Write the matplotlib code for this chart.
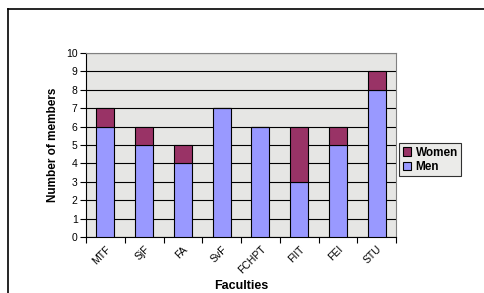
import matplotlib
matplotlib.use("Agg")
import matplotlib.pyplot as plt
from matplotlib.patches import Patch
from matplotlib.lines import Line2D
import numpy as np

faculties = ["MTF", "SjF", "FA", "SvF", "FCHPT", "FIIT", "FEI", "STU"]
men = [6, 5, 4, 7, 6, 3, 5, 8]
women = [1, 1, 1, 0, 0, 3, 1, 1]
yticks = list(range(0, 11))

plt.rcParams['font.family'] = ['Liberation Sans', 'DejaVu Sans']

W, H = 484, 293
fig = plt.figure(figsize=(W / 100, H / 100), dpi=100)
fig.patch.set_facecolor("white")

# outer border (left and top visible)
fig.add_artist(Line2D([8 / W, 8 / W], [0, 1 - 9 / H], color="black", lw=1.2, transform=fig.transFigure))
fig.add_artist(Line2D([8 / W, 1], [1 - 9 / H, 1 - 9 / H], color="black", lw=1.2, transform=fig.transFigure))

x0, x1 = 86, 396
y0, y1 = 53, 237
ax = fig.add_axes([x0 / W, 1 - y1 / H, (x1 - x0) / W, (y1 - y0) / H])
ax.set_facecolor("#e6e6e4")

x = np.arange(len(faculties))
bw = 0.46
ax.bar(x, men, bw, color="#9999ff", edgecolor="black", linewidth=0.8, label="Men", zorder=3)
ax.bar(x, women, bw, bottom=men, color="#993366", edgecolor="black", linewidth=0.8, label="Women", zorder=3)

ax.set_xlim(-0.5, len(faculties) - 0.5)
ax.set_ylim(0, 10)
ax.set_yticks(yticks)
ax.set_yticklabels([str(v) for v in yticks], fontsize=7.5)
ax.yaxis.grid(True, color="black", linewidth=0.8, zorder=1)
ax.set_axisbelow(True)

ax.set_xticks(np.arange(len(faculties) + 1) - 0.5)
ax.set_xticklabels([])
ax.set_xticks(x, minor=True)
ax.set_xticklabels(faculties, minor=True, rotation=45, ha="right", va="top", fontsize=7.5,
                   rotation_mode="anchor")
ax.tick_params(axis="x", which="minor", length=0, pad=5)
ax.tick_params(axis="x", which="major", length=4, direction="out", width=0.8)
ax.tick_params(axis="y", length=4, direction="out", width=0.8, pad=2)

for s in ["top", "right"]:
    ax.spines[s].set_color("#808080")
    ax.spines[s].set_linewidth(0.8)
for s in ["left", "bottom"]:
    ax.spines[s].set_color("black")
    ax.spines[s].set_linewidth(0.8)

ax.set_ylabel("Number of members", fontsize=8.5, fontweight="bold", labelpad=5)
fig.text((x0 + x1) / 2 / W, 1 - 286 / H, "Faculties", ha="center", va="center",
         fontsize=9, fontweight="bold")

handles = [Patch(facecolor="#993366", edgecolor="black", linewidth=0.8),
           Patch(facecolor="#9999ff", edgecolor="black", linewidth=0.8)]
leg = fig.legend(handles, ["Women", "Men"], loc="upper left",
                 bbox_to_anchor=(399 / W, 1 - 143 / H), frameon=True, fancybox=False,
                 prop={"weight": "bold", "size": 8.5},
                 handlelength=0.7, handleheight=0.7, handletextpad=0.4,
                 borderpad=0.3, labelspacing=0.2, borderaxespad=0)
leg.get_frame().set_edgecolor("black")
leg.get_frame().set_linewidth(0.8)
leg.get_frame().set_facecolor("#e6e6e4")

fig.savefig("out.png", dpi=100)
